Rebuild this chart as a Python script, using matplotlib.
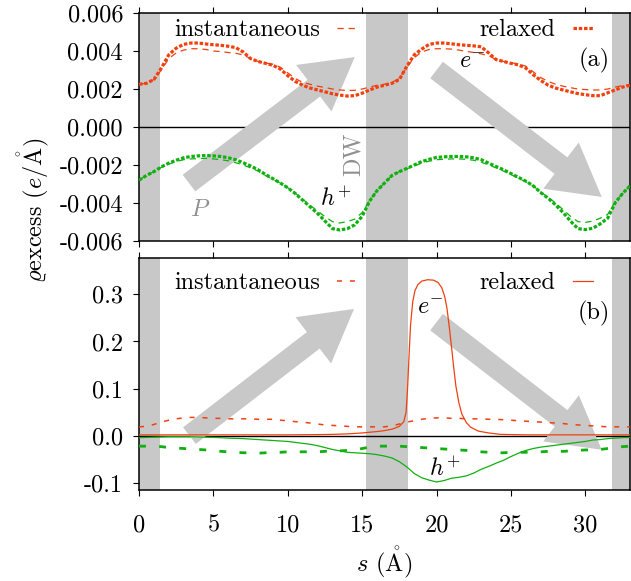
import numpy as np
import matplotlib
matplotlib.use('Agg')
import matplotlib.pyplot as plt
from matplotlib.lines import Line2D

plt.rcParams.update({
    'font.family': ['cmr10', 'STIXGeneral'],
    'mathtext.fontset': 'cm',
    'font.size': 17.5,
    'axes.unicode_minus': False,
    'axes.formatter.use_mathtext': True,
    'lines.scale_dashes': False,
})

RED = '#f0400f'
GREEN = '#10b010'
GRAY = '#c8c8c8'

# position along the path (Angstrom)
s = np.arange(0, 33.01, 0.5)

# panel (a): excess density, units of 1e-3 e/A
a_e_relaxed = [2.25, 2.3, 2.5, 3.1, 3.8, 4.15, 4.35, 4.42, 4.42, 4.37, 4.33, 4.3, 4.25, 4.18,
               3.95, 3.6, 3.45, 3.35, 3.25, 3.05, 2.7, 2.4, 2.2, 2.05, 1.95, 1.85, 1.75, 1.68,
               1.63, 1.65, 1.78, 1.95, 2.1, 2.2, 2.3, 2.5, 3.2, 3.8, 4.1, 4.35, 4.42, 4.42,
               4.38, 4.33, 4.3, 4.27, 4.22, 3.9, 3.55, 3.45, 3.35, 3.27, 3.1, 2.75, 2.45, 2.2,
               2.05, 1.95, 1.85, 1.76, 1.7, 1.65, 1.65, 1.8, 1.95, 2.1, 2.2]
a_e_inst = [2.25, 2.3, 2.5, 3.0, 3.6, 3.9, 4.05, 4.12, 4.12, 4.08, 4.0, 3.97, 3.92, 3.88,
            3.8, 3.6, 3.45, 3.37, 3.3, 3.15, 2.85, 2.55, 2.35, 2.25, 2.15, 2.08, 2.0, 1.95,
            1.92, 1.93, 2.0, 2.1, 2.2, 2.25, 2.35, 2.55, 3.15, 3.65, 3.95, 4.08, 4.12, 4.12,
            4.1, 4.05, 3.98, 3.92, 3.85, 3.75, 3.55, 3.45, 3.38, 3.32, 3.2, 2.9, 2.6, 2.4,
            2.25, 2.15, 2.07, 2.0, 1.97, 1.95, 1.95, 2.0, 2.1, 2.18, 2.22]
a_h_relaxed = [-2.8, -2.55, -2.35, -2.1, -1.9, -1.75, -1.62, -1.55, -1.52, -1.5, -1.52, -1.55,
               -1.62, -1.72, -1.88, -2.05, -2.25, -2.5, -2.72, -2.95, -3.2, -3.5, -3.85, -4.2,
               -4.55, -4.95, -5.35, -5.42, -5.35, -5.15, -4.7, -3.9, -3.35, -2.95, -2.55, -2.35,
               -2.18, -2.0, -1.82, -1.7, -1.6, -1.57, -1.55, -1.55, -1.57, -1.62, -1.72, -1.9,
               -2.08, -2.25, -2.45, -2.65, -2.85, -3.1, -3.45, -3.75, -4.1, -4.5, -4.95, -5.35,
               -5.4, -5.33, -5.1, -4.8, -4.0, -3.5, -3.1]
a_h_inst = [-2.8, -2.55, -2.35, -2.12, -1.95, -1.82, -1.72, -1.68, -1.66, -1.65, -1.68, -1.72,
            -1.78, -1.88, -2.0, -2.15, -2.32, -2.55, -2.75, -2.95, -3.2, -3.48, -3.8, -4.12,
            -4.42, -4.72, -4.98, -5.05, -4.98, -4.85, -4.5, -3.85, -3.35, -2.95, -2.55, -2.35,
            -2.2, -2.05, -1.9, -1.8, -1.72, -1.7, -1.68, -1.68, -1.7, -1.75, -1.85, -2.0,
            -2.15, -2.32, -2.5, -2.7, -2.88, -3.1, -3.42, -3.7, -4.0, -4.35, -4.7, -4.98,
            -5.02, -4.95, -4.8, -4.6, -3.95, -3.5, -3.1]

# panel (b): e/A
b_e_inst = [0.019, 0.02, 0.024, 0.029, 0.033, 0.036, 0.038, 0.039, 0.039, 0.038, 0.037, 0.037,
            0.036, 0.036, 0.036, 0.036, 0.035, 0.035, 0.035, 0.033, 0.032, 0.03, 0.029, 0.027,
            0.025, 0.023, 0.022, 0.021, 0.02, 0.019, 0.019, 0.019, 0.019, 0.019, 0.021, 0.025,
            0.029, 0.032, 0.035, 0.037, 0.038, 0.038, 0.037, 0.037, 0.036, 0.036, 0.036, 0.035,
            0.035, 0.034, 0.033, 0.032, 0.031, 0.03, 0.029, 0.028, 0.027, 0.026, 0.024, 0.023,
            0.022, 0.021, 0.02, 0.019, 0.019, 0.019, 0.019]
b_h_inst = [-0.022, -0.022, -0.022, -0.023, -0.025, -0.026, -0.027, -0.028, -0.029, -0.030,
            -0.031, -0.033, -0.034, -0.035, -0.036, -0.036, -0.037, -0.036, -0.035, -0.035,
            -0.034, -0.034, -0.034, -0.034, -0.034, -0.033, -0.033, -0.032, -0.031, -0.03,
            -0.027, -0.024, -0.022, -0.022, -0.022, -0.022, -0.023, -0.024, -0.025, -0.026,
            -0.027, -0.028, -0.029, -0.03, -0.031, -0.032, -0.034, -0.035, -0.036, -0.036,
            -0.035, -0.035, -0.035, -0.034, -0.034, -0.033, -0.033, -0.033, -0.032, -0.031,
            -0.03, -0.03, -0.029, -0.027, -0.025, -0.023, -0.022]
b_h_relaxed = [-0.004, -0.0035, -0.003, -0.0025, -0.002, -0.002, -0.002, -0.002, -0.0025, -0.003,
               -0.0035, -0.004, -0.005, -0.0055, -0.006, -0.007, -0.008, -0.009, -0.01, -0.011,
               -0.012, -0.014, -0.016, -0.018, -0.021, -0.025, -0.029, -0.032, -0.035, -0.036,
               -0.037, -0.038, -0.040, -0.043, -0.047, -0.055, -0.066, -0.080, -0.089, -0.094,
               -0.098, -0.095, -0.09, -0.088, -0.085, -0.079, -0.071, -0.065, -0.058, -0.052,
               -0.044, -0.037, -0.031, -0.027, -0.024, -0.022, -0.02, -0.018, -0.016, -0.014,
               -0.012, -0.009, -0.008, -0.006, -0.005, -0.004, -0.0035]
# relaxed electron, sampled finer around the localised peak
b_e_s = [0, 2, 4, 6, 8, 10, 12, 13, 14, 15, 16, 16.5, 17, 17.5, 17.8, 17.95, 18.05, 18.15,
         18.25, 18.4, 18.55, 18.75, 19.0, 19.4, 19.8, 20.1, 20.35, 20.55, 20.7, 20.85, 21.0,
         21.15, 21.3, 21.5, 21.7, 22.0, 22.3, 22.8, 23.5, 24.3, 26, 28, 30, 33]
b_e_relaxed = [0.002, 0.002, 0.002, 0.002, 0.002, 0.002, 0.0025, 0.003, 0.004, 0.006, 0.009,
               0.011, 0.014, 0.02, 0.03, 0.05, 0.1, 0.17, 0.235, 0.285, 0.308, 0.321, 0.328,
               0.331, 0.33, 0.325, 0.314, 0.295, 0.27, 0.232, 0.19, 0.145, 0.105, 0.07, 0.046,
               0.028, 0.018, 0.01, 0.006, 0.003, 0.002, 0.002, 0.002, 0.002]

# domain wall regions (grey bands)
walls = [(0.0, 1.4), (15.25, 18.05), (31.8, 33.0)]
# polarisation arrows: (tail, tip) in data units per panel
arrows_a = [((3.36, -0.00295), (14.5, 0.00368)), ((20.0, 0.0030), (31.1, -0.00368))]
arrows_b = [((3.39, 0.0004), (14.45, 0.269)), ((20.0, 0.241), (31.1, -0.0297))]

fig = plt.figure(figsize=(6.31, 5.81), dpi=100)
ax1 = fig.add_axes([0.2203, 0.5852, 0.7781, 0.3924])
ax2 = fig.add_axes([0.2203, 0.1566, 0.7781, 0.3993])

arrow_style = 'simple,head_width=42,head_length=37,tail_width=15'
for ax, arrows in ((ax1, arrows_a), (ax2, arrows_b)):
    for x0, x1 in walls:
        ax.axvspan(x0, x1, color=GRAY, lw=0, zorder=0)
    ax.axhline(0, color='k', lw=1.0, zorder=1)
    for tail, tip in arrows:
        ax.annotate('', xy=tip, xytext=tail, zorder=1.5,
                    arrowprops=dict(arrowstyle=arrow_style, mutation_scale=1,
                                    color=GRAY, lw=0, shrinkA=0, shrinkB=0))
    ax.set_xlim(0, 33)
    ax.set_xticks(np.arange(0, 31, 5))
    ax.tick_params(direction='out', top=True, right=False, length=4.5, width=0.8)
    ax.tick_params(axis='y', pad=7)
    ax.tick_params(axis='x', pad=13)
    for sp in ax.spines.values():
        sp.set_linewidth(1.1)

# panel (a)
sc = 1e-3
ax1.plot(s, np.array(a_e_inst) * sc, color=RED, lw=0.9, ls=(0, (4.5, 3.5)), zorder=3)
ax1.plot(s, np.array(a_h_inst) * sc, color=GREEN, lw=0.9, ls=(0, (4.5, 3.5)), zorder=3)
ax1.plot(s, np.array(a_e_relaxed) * sc, color=RED, lw=2.3, ls=(0, (2.5, 1.3)), zorder=4)
ax1.plot(s, np.array(a_h_relaxed) * sc, color=GREEN, lw=2.3, ls=(0, (2.5, 1.3)), zorder=4)
ax1.set_ylim(-0.006, 0.006)
yt1 = np.arange(-0.006, 0.0061, 0.002)
ax1.set_yticks(yt1)
ax1.set_yticklabels(['{0:.3f}'.format(v) for v in yt1])
ax1.set_xticklabels([])

h_a = [Line2D([], [], color=RED, lw=0.9, ls=(0, (4.5, 3.5))),
       Line2D([], [], color=RED, lw=2.3, ls=(0, (2.5, 1.3)))]
ax1.legend(h_a, ['instantaneous', 'relaxed'], ncol=2, markerfirst=False, frameon=False,
           loc='center right', bbox_to_anchor=(0.925, 0.925), borderpad=0, borderaxespad=0,
           handlelength=0.85, handletextpad=0.7, columnspacing=5.0)
ax1.text(0.927, 0.794, '(a)', transform=ax1.transAxes, ha='center', va='center')
ax1.text(22.4, 0.00342, r'$e^{-}$', ha='center', va='center', zorder=5)
ax1.text(13.2, -0.00384, r'$h^{+}$', ha='center', va='center', zorder=5)
ax1.text(4.1, -0.00437, r'$P$', ha='center', va='center', color='#909090', zorder=5)
ax1.text(14.4, -0.00142, 'DW', ha='center', va='center', rotation=90, color='#909090', zorder=5)

# panel (b)
ax2.plot(s, b_e_inst, color=RED, lw=1.1, ls=(0, (3.6, 5.7)), zorder=3)
ax2.plot(s, b_h_inst, color=GREEN, lw=2.0, ls=(0, (5, 9.5)), zorder=3)
ax2.plot(b_e_s, b_e_relaxed, color=RED, lw=0.9, zorder=4)
ax2.plot(s, b_h_relaxed, color=GREEN, lw=0.9, zorder=4)
ax2.set_ylim(-0.115, 0.377)
yt2 = [-0.1, 0.0, 0.1, 0.2, 0.3]
ax2.set_yticks(yt2)
ax2.set_yticklabels(['{0:.1f}'.format(v) for v in yt2])
ax2.set_xticklabels([str(v) for v in range(0, 31, 5)])

h_b = [Line2D([], [], color=RED, lw=1.1, ls=(0, (3.6, 5.7))),
       Line2D([], [], color=RED, lw=0.9)]
ax2.legend(h_b, ['instantaneous', 'relaxed'], ncol=2, markerfirst=False, frameon=False,
           loc='center right', bbox_to_anchor=(0.925, 0.892), borderpad=0, borderaxespad=0,
           handlelength=0.85, handletextpad=0.7, columnspacing=5.0)
ax2.text(0.927, 0.763, '(b)', transform=ax2.transAxes, ha='center', va='center')
ax2.text(19.55, 0.271, r'$e^{-}$', ha='center', va='center', zorder=5)
ax2.text(20.56, -0.073, r'$h^{+}$', ha='center', va='center', zorder=5)

ax2.set_xlabel(r'$s$ ($\mathring{\mathrm{A}}$)')
ax2.xaxis.set_label_coords(0.5, -0.235)
fig.text(0.052, 1 - 210 / 581, r'$\varrho$excess ($e/\mathring{\mathrm{A}}$)', rotation=90,
         ha='center', va='center')

fig.savefig('out.png', dpi=100)
